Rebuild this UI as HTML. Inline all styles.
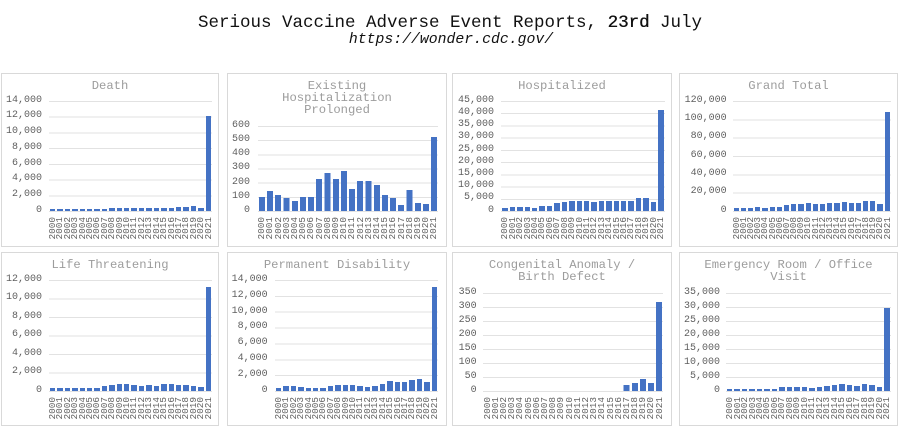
<!DOCTYPE html>
<html><head><meta charset="utf-8"><style>
body{margin:0;width:900px;height:426px;background:#fff;position:relative;overflow:hidden;font-family:"Liberation Mono",monospace}
.abs{position:absolute}
.mt{position:absolute;left:0;width:900px;text-align:center;color:#111;white-space:pre}
.pan{position:absolute;border:1px solid #d9d9d9;box-sizing:border-box}
.ttl{position:absolute;text-align:center;font-size:12.2px;line-height:12px;color:#9c9c9c;white-space:pre}
.plot{position:absolute}
.grid{position:absolute;left:0;right:0;top:0;height:100%;border-bottom:1px solid #e2e2e2;background:repeating-linear-gradient(#e2e2e2 0 1px,transparent 1px calc(100% / var(--n)))}
.bars{position:absolute;left:0;right:0;top:0;bottom:0;display:flex;align-items:flex-end}
.bars i{flex:1;min-width:0;height:calc(100% * var(--v) / var(--m));background:linear-gradient(90deg,transparent 15%,#4472c4 15%,#4472c4 85%,transparent 85%)}
.yl{position:absolute;width:60px;display:flex;flex-direction:column;justify-content:space-between;text-align:right;font-size:10px;line-height:12px;color:#5f5f5f}
.yl span{display:block;height:12px}
.cats{position:absolute;display:flex;font-size:9.4px;color:#5f5f5f}
.cats span{flex:1;min-width:0;display:flex;justify-content:center}
.cats b{font-weight:normal;writing-mode:vertical-rl;transform:rotate(180deg);line-height:1;white-space:nowrap}
</style></head><body>

<div class="mt" style="top:13px;font-size:17.5px;line-height:20px">Serious Vaccine Adverse Event Reports, <span style="text-shadow:0.4px 0 0 #111">23rd</span> July</div>
<div class="mt" style="top:31.5px;font-size:14.8px;line-height:16px;font-style:italic;left:1px">https://wonder.cdc.gov/</div>

<!-- Panel 1: Death -->
<div class="pan" style="left:1px;top:73px;width:218px;height:174px"></div>
<div class="ttl" style="left:1px;top:80px;width:218px">Death</div>
<div class="yl" style="left:-18px;top:94.7px;height:122px"><span>14,000</span><span>12,000</span><span>10,000</span><span>8,000</span><span>6,000</span><span>4,000</span><span>2,000</span><span>0</span></div>
<div class="plot" style="left:49px;top:100.7px;width:163px;height:110px;--m:14000;--n:7">
<div class="grid"></div>
<div class="bars"><i style="--v:200"></i><i style="--v:220"></i><i style="--v:220"></i><i style="--v:230"></i><i style="--v:200"></i><i style="--v:200"></i><i style="--v:210"></i><i style="--v:260"></i><i style="--v:300"></i><i style="--v:300"></i><i style="--v:300"></i><i style="--v:300"></i><i style="--v:300"></i><i style="--v:320"></i><i style="--v:330"></i><i style="--v:350"></i><i style="--v:380"></i><i style="--v:430"></i><i style="--v:500"></i><i style="--v:560"></i><i style="--v:380"></i><i style="--v:12050"></i></div>
</div>
<div class="cats" style="left:49px;top:216.7px;width:163px"><span><b>2000</b></span><span><b>2001</b></span><span><b>2002</b></span><span><b>2003</b></span><span><b>2004</b></span><span><b>2005</b></span><span><b>2006</b></span><span><b>2007</b></span><span><b>2008</b></span><span><b>2009</b></span><span><b>2010</b></span><span><b>2011</b></span><span><b>2012</b></span><span><b>2013</b></span><span><b>2014</b></span><span><b>2015</b></span><span><b>2016</b></span><span><b>2017</b></span><span><b>2018</b></span><span><b>2019</b></span><span><b>2020</b></span><span><b>2021</b></span></div>

<!-- Panel 2: Existing Hospitalization Prolonged -->
<div class="pan" style="left:227px;top:73px;width:220px;height:174px"></div>
<div class="ttl" style="left:227px;top:80px;width:220px">Existing
Hospitalization
Prolonged</div>
<div class="yl" style="left:190px;top:119.7px;height:97.3px"><span>600</span><span>500</span><span>400</span><span>300</span><span>200</span><span>100</span><span>0</span></div>
<div class="plot" style="left:257.7px;top:125.7px;width:180.3px;height:85.3px;--m:600;--n:6">
<div class="grid"></div>
<div class="bars"><i style="--v:100"></i><i style="--v:140"></i><i style="--v:110"></i><i style="--v:90"></i><i style="--v:70"></i><i style="--v:97"></i><i style="--v:97"></i><i style="--v:225"></i><i style="--v:265"></i><i style="--v:228"></i><i style="--v:280"></i><i style="--v:155"></i><i style="--v:213"></i><i style="--v:210"></i><i style="--v:182"></i><i style="--v:115"></i><i style="--v:90"></i><i style="--v:43"></i><i style="--v:148"></i><i style="--v:58"></i><i style="--v:52"></i><i style="--v:518"></i></div>
</div>
<div class="cats" style="left:257.7px;top:217px;width:180.3px"><span><b>2000</b></span><span><b>2001</b></span><span><b>2002</b></span><span><b>2003</b></span><span><b>2004</b></span><span><b>2005</b></span><span><b>2006</b></span><span><b>2007</b></span><span><b>2008</b></span><span><b>2009</b></span><span><b>2010</b></span><span><b>2011</b></span><span><b>2012</b></span><span><b>2013</b></span><span><b>2014</b></span><span><b>2015</b></span><span><b>2016</b></span><span><b>2017</b></span><span><b>2018</b></span><span><b>2019</b></span><span><b>2020</b></span><span><b>2021</b></span></div>

<!-- Panel 3: Hospitalized -->
<div class="pan" style="left:452px;top:73px;width:220px;height:174px"></div>
<div class="ttl" style="left:452px;top:80px;width:220px">Hospitalized</div>
<div class="yl" style="left:434px;top:94.7px;height:122px"><span>45,000</span><span>40,000</span><span>35,000</span><span>30,000</span><span>25,000</span><span>20,000</span><span>15,000</span><span>10,000</span><span>5,000</span><span>0</span></div>
<div class="plot" style="left:501.3px;top:100.7px;width:163.4px;height:110px;--m:45000;--n:9">
<div class="grid"></div>
<div class="bars"><i style="--v:1300"></i><i style="--v:1400"></i><i style="--v:1400"></i><i style="--v:1600"></i><i style="--v:1300"></i><i style="--v:1800"></i><i style="--v:2000"></i><i style="--v:3000"></i><i style="--v:3700"></i><i style="--v:3800"></i><i style="--v:4100"></i><i style="--v:3800"></i><i style="--v:3700"></i><i style="--v:3900"></i><i style="--v:3900"></i><i style="--v:4100"></i><i style="--v:4000"></i><i style="--v:3900"></i><i style="--v:5000"></i><i style="--v:5000"></i><i style="--v:3400"></i><i style="--v:41200"></i></div>
</div>
<div class="cats" style="left:501.3px;top:216.7px;width:163.4px"><span><b>2000</b></span><span><b>2001</b></span><span><b>2002</b></span><span><b>2003</b></span><span><b>2004</b></span><span><b>2005</b></span><span><b>2006</b></span><span><b>2007</b></span><span><b>2008</b></span><span><b>2009</b></span><span><b>2010</b></span><span><b>2011</b></span><span><b>2012</b></span><span><b>2013</b></span><span><b>2014</b></span><span><b>2015</b></span><span><b>2016</b></span><span><b>2017</b></span><span><b>2018</b></span><span><b>2019</b></span><span><b>2020</b></span><span><b>2021</b></span></div>

<!-- Panel 4: Grand Total -->
<div class="pan" style="left:679px;top:73px;width:219px;height:174px"></div>
<div class="ttl" style="left:679px;top:80px;width:219px">Grand Total</div>
<div class="yl" style="left:666.7px;top:94.7px;height:122px"><span>120,000</span><span>100,000</span><span>80,000</span><span>60,000</span><span>40,000</span><span>20,000</span><span>0</span></div>
<div class="plot" style="left:732.7px;top:100.7px;width:158px;height:110px;--m:120000;--n:6">
<div class="grid"></div>
<div class="bars"><i style="--v:2500"></i><i style="--v:3000"></i><i style="--v:3000"></i><i style="--v:3500"></i><i style="--v:2500"></i><i style="--v:3500"></i><i style="--v:4000"></i><i style="--v:6000"></i><i style="--v:7200"></i><i style="--v:7500"></i><i style="--v:8000"></i><i style="--v:7200"></i><i style="--v:6800"></i><i style="--v:8000"></i><i style="--v:8300"></i><i style="--v:9000"></i><i style="--v:8600"></i><i style="--v:8500"></i><i style="--v:11000"></i><i style="--v:10500"></i><i style="--v:7200"></i><i style="--v:108000"></i></div>
</div>
<div class="cats" style="left:732.7px;top:216.7px;width:158px"><span><b>2000</b></span><span><b>2001</b></span><span><b>2002</b></span><span><b>2003</b></span><span><b>2004</b></span><span><b>2005</b></span><span><b>2006</b></span><span><b>2007</b></span><span><b>2008</b></span><span><b>2009</b></span><span><b>2010</b></span><span><b>2011</b></span><span><b>2012</b></span><span><b>2013</b></span><span><b>2014</b></span><span><b>2015</b></span><span><b>2016</b></span><span><b>2017</b></span><span><b>2018</b></span><span><b>2019</b></span><span><b>2020</b></span><span><b>2021</b></span></div>

<!-- Panel 5: Life Threatening -->
<div class="pan" style="left:1px;top:252px;width:218px;height:174px"></div>
<div class="ttl" style="left:1px;top:259px;width:218px">Life Threatening</div>
<div class="yl" style="left:-18px;top:274px;height:122.7px"><span>12,000</span><span>10,000</span><span>8,000</span><span>6,000</span><span>4,000</span><span>2,000</span><span>0</span></div>
<div class="plot" style="left:49px;top:280px;width:163px;height:110.7px;--m:12000;--n:6">
<div class="grid"></div>
<div class="bars"><i style="--v:250"></i><i style="--v:250"></i><i style="--v:280"></i><i style="--v:330"></i><i style="--v:280"></i><i style="--v:280"></i><i style="--v:320"></i><i style="--v:550"></i><i style="--v:620"></i><i style="--v:700"></i><i style="--v:750"></i><i style="--v:600"></i><i style="--v:550"></i><i style="--v:600"></i><i style="--v:550"></i><i style="--v:680"></i><i style="--v:700"></i><i style="--v:600"></i><i style="--v:650"></i><i style="--v:550"></i><i style="--v:430"></i><i style="--v:11200"></i></div>
</div>
<div class="cats" style="left:49px;top:396.7px;width:163px"><span><b>2000</b></span><span><b>2001</b></span><span><b>2002</b></span><span><b>2003</b></span><span><b>2004</b></span><span><b>2005</b></span><span><b>2006</b></span><span><b>2007</b></span><span><b>2008</b></span><span><b>2009</b></span><span><b>2010</b></span><span><b>2011</b></span><span><b>2012</b></span><span><b>2013</b></span><span><b>2014</b></span><span><b>2015</b></span><span><b>2016</b></span><span><b>2017</b></span><span><b>2018</b></span><span><b>2019</b></span><span><b>2020</b></span><span><b>2021</b></span></div>

<!-- Panel 6: Permanent Disability -->
<div class="pan" style="left:227px;top:252px;width:220px;height:174px"></div>
<div class="ttl" style="left:227px;top:259px;width:220px">Permanent Disability</div>
<div class="yl" style="left:207.7px;top:274px;height:122.7px"><span>14,000</span><span>12,000</span><span>10,000</span><span>8,000</span><span>6,000</span><span>4,000</span><span>2,000</span><span>0</span></div>
<div class="plot" style="left:275px;top:280px;width:163px;height:110.7px;--m:14000;--n:7">
<div class="grid"></div>
<div class="bars"><i style="--v:350"></i><i style="--v:550"></i><i style="--v:550"></i><i style="--v:420"></i><i style="--v:380"></i><i style="--v:380"></i><i style="--v:380"></i><i style="--v:600"></i><i style="--v:720"></i><i style="--v:720"></i><i style="--v:700"></i><i style="--v:580"></i><i style="--v:500"></i><i style="--v:620"></i><i style="--v:850"></i><i style="--v:1250"></i><i style="--v:1050"></i><i style="--v:1100"></i><i style="--v:1400"></i><i style="--v:1450"></i><i style="--v:1150"></i><i style="--v:13150"></i></div>
</div>
<div class="cats" style="left:275px;top:396.7px;width:163px"><span><b>2000</b></span><span><b>2001</b></span><span><b>2002</b></span><span><b>2003</b></span><span><b>2004</b></span><span><b>2005</b></span><span><b>2006</b></span><span><b>2007</b></span><span><b>2008</b></span><span><b>2009</b></span><span><b>2010</b></span><span><b>2011</b></span><span><b>2012</b></span><span><b>2013</b></span><span><b>2014</b></span><span><b>2015</b></span><span><b>2016</b></span><span><b>2017</b></span><span><b>2018</b></span><span><b>2019</b></span><span><b>2020</b></span><span><b>2021</b></span></div>

<!-- Panel 7: Congenital Anomaly / Birth Defect -->
<div class="pan" style="left:452px;top:252px;width:220px;height:174px"></div>
<div class="ttl" style="left:452px;top:259px;width:220px">Congenital Anomaly /
Birth Defect</div>
<div class="yl" style="left:416.7px;top:286.7px;height:110.3px"><span>350</span><span>300</span><span>250</span><span>200</span><span>150</span><span>100</span><span>50</span><span>0</span></div>
<div class="plot" style="left:483.3px;top:292.7px;width:180px;height:98.3px;--m:350;--n:7">
<div class="grid"></div>
<div class="bars"><i style="--v:0"></i><i style="--v:0"></i><i style="--v:0"></i><i style="--v:0"></i><i style="--v:0"></i><i style="--v:0"></i><i style="--v:0"></i><i style="--v:0"></i><i style="--v:0"></i><i style="--v:0"></i><i style="--v:0"></i><i style="--v:0"></i><i style="--v:0"></i><i style="--v:0"></i><i style="--v:0"></i><i style="--v:0"></i><i style="--v:0"></i><i style="--v:20"></i><i style="--v:30"></i><i style="--v:42"></i><i style="--v:27"></i><i style="--v:316"></i></div>
</div>
<div class="cats" style="left:483.3px;top:397px;width:180px"><span><b>2000</b></span><span><b>2001</b></span><span><b>2002</b></span><span><b>2003</b></span><span><b>2004</b></span><span><b>2005</b></span><span><b>2006</b></span><span><b>2007</b></span><span><b>2008</b></span><span><b>2009</b></span><span><b>2010</b></span><span><b>2011</b></span><span><b>2012</b></span><span><b>2013</b></span><span><b>2014</b></span><span><b>2015</b></span><span><b>2016</b></span><span><b>2017</b></span><span><b>2018</b></span><span><b>2019</b></span><span><b>2020</b></span><span><b>2021</b></span></div>

<!-- Panel 8: Emergency Room / Office Visit -->
<div class="pan" style="left:679px;top:252px;width:219px;height:174px"></div>
<div class="ttl" style="left:679px;top:259px;width:219px">Emergency Room / Office
Visit</div>
<div class="yl" style="left:660px;top:286.7px;height:110.3px"><span>35,000</span><span>30,000</span><span>25,000</span><span>20,000</span><span>15,000</span><span>10,000</span><span>5,000</span><span>0</span></div>
<div class="plot" style="left:726px;top:292.7px;width:164.7px;height:98.3px;--m:35000;--n:7">
<div class="grid"></div>
<div class="bars"><i style="--v:600"></i><i style="--v:600"></i><i style="--v:600"></i><i style="--v:700"></i><i style="--v:600"></i><i style="--v:600"></i><i style="--v:700"></i><i style="--v:1300"></i><i style="--v:1300"></i><i style="--v:1500"></i><i style="--v:1500"></i><i style="--v:1200"></i><i style="--v:1300"></i><i style="--v:1800"></i><i style="--v:2100"></i><i style="--v:2500"></i><i style="--v:2100"></i><i style="--v:1800"></i><i style="--v:2500"></i><i style="--v:2300"></i><i style="--v:1600"></i><i style="--v:29450"></i></div>
</div>
<div class="cats" style="left:726px;top:397px;width:164.7px"><span><b>2000</b></span><span><b>2001</b></span><span><b>2002</b></span><span><b>2003</b></span><span><b>2004</b></span><span><b>2005</b></span><span><b>2006</b></span><span><b>2007</b></span><span><b>2008</b></span><span><b>2009</b></span><span><b>2010</b></span><span><b>2011</b></span><span><b>2012</b></span><span><b>2013</b></span><span><b>2014</b></span><span><b>2015</b></span><span><b>2016</b></span><span><b>2017</b></span><span><b>2018</b></span><span><b>2019</b></span><span><b>2020</b></span><span><b>2021</b></span></div>

</body></html>
